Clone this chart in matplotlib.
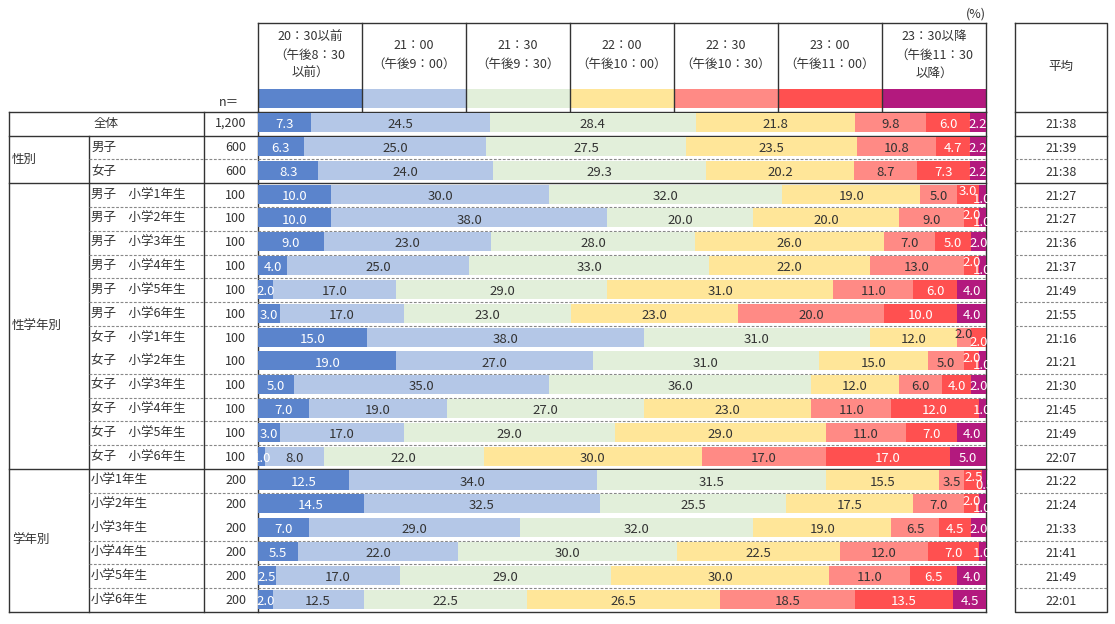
import matplotlib
matplotlib.use('Agg')
import matplotlib.pyplot as plt
from matplotlib.patches import Rectangle

plt.rcParams['font.family'] = ['Noto Sans CJK JP', 'DejaVu Sans']

# --- data -------------------------------------------------------------
categories = ['20：30以前\n（午後8：30\n以前）', '21：00\n（午後9：00）', '21：30\n（午後9：30）',
              '22：00\n（午後10：00）', '22：30\n（午後10：30）', '23：00\n（午後11：00）',
              '23：30以降\n（午後11：30\n以降）']

row_labels = ['全体', '男子', '女子',
              '男子　小学1年生', '男子　小学2年生', '男子　小学3年生',
              '男子　小学4年生', '男子　小学5年生', '男子　小学6年生',
              '女子　小学1年生', '女子　小学2年生', '女子　小学3年生',
              '女子　小学4年生', '女子　小学5年生', '女子　小学6年生',
              '小学1年生', '小学2年生', '小学3年生', '小学4年生', '小学5年生', '小学6年生']
groups = [('性別', 1, 2), ('性学年別', 3, 14), ('学年別', 15, 20)]
n_values = ['1,200', '600', '600'] + ['100'] * 12 + ['200'] * 6
averages = ['21:38', '21:39', '21:38',
            '21:27', '21:27', '21:36', '21:37', '21:49', '21:55',
            '21:16', '21:21', '21:30', '21:45', '21:49', '22:07',
            '21:22', '21:24', '21:33', '21:41', '21:49', '22:01']

t2030 = [7.3, 6.3, 8.3, 10.0, 10.0, 9.0, 4.0, 2.0, 3.0, 15.0, 19.0, 5.0, 7.0, 3.0, 1.0,
         12.5, 14.5, 7.0, 5.5, 2.5, 2.0]
t2100 = [24.5, 25.0, 24.0, 30.0, 38.0, 23.0, 25.0, 17.0, 17.0, 38.0, 27.0, 35.0, 19.0, 17.0, 8.0,
         34.0, 32.5, 29.0, 22.0, 17.0, 12.5]
t2130 = [28.4, 27.5, 29.3, 32.0, 20.0, 28.0, 33.0, 29.0, 23.0, 31.0, 31.0, 36.0, 27.0, 29.0, 22.0,
         31.5, 25.5, 32.0, 30.0, 29.0, 22.5]
t2200 = [21.8, 23.5, 20.2, 19.0, 20.0, 26.0, 22.0, 31.0, 23.0, 12.0, 15.0, 12.0, 23.0, 29.0, 30.0,
         15.5, 17.5, 19.0, 22.5, 30.0, 26.5]
t2230 = [9.8, 10.8, 8.7, 5.0, 9.0, 7.0, 13.0, 11.0, 20.0, 2.0, 5.0, 6.0, 11.0, 11.0, 17.0,
         3.5, 7.0, 6.5, 12.0, 11.0, 18.5]
t2300 = [6.0, 4.7, 7.3, 3.0, 2.0, 5.0, 2.0, 6.0, 10.0, 2.0, 2.0, 4.0, 12.0, 7.0, 17.0,
         2.5, 2.0, 4.5, 7.0, 6.5, 13.5]
t2330 = [2.2, 2.2, 2.2, 1.0, 1.0, 2.0, 1.0, 4.0, 4.0, 0.0, 1.0, 2.0, 1.0, 4.0, 5.0,
         0.5, 1.0, 2.0, 1.0, 4.0, 4.5]

series = [t2030, t2100, t2130, t2200, t2230, t2300, t2330]
colors = ['#5B84CC', '#B4C7E7', '#E2EFDA', '#FFE699', '#FF8A85', '#FF5050', '#B3197E']
text_colors = ['white', '#333333', '#333333', '#333333', '#333333', 'white', 'white']
dark = '#333333'
no_sep = {10, 17}   # row boundaries drawn without a separator in the original

# --- layout (pixels) --------------------------------------------------
W, H = 1115, 624
X_L, X_G, X_N, X_B0, X_B1 = 9, 89, 204, 258, 986
X_A0, X_A1 = 1015, 1107
Y_TOP, Y_T0, Y_T1 = 23, 111.7, 612
nrows = len(row_labels)
rh = (Y_T1 - Y_T0) / nrows

fig = plt.figure(figsize=(W / 100, H / 100), dpi=100)
ax = fig.add_axes([0, 0, 1, 1])
ax.set_xlim(0, W)
ax.set_ylim(H, 0)
ax.axis('off')

lc = '#333333'
lw = 1.0

# header columns and legend strips
colw = (X_B1 - X_B0) / len(categories)
for j, cat in enumerate(categories):
    x0 = X_B0 + j * colw
    ax.add_patch(Rectangle((x0, 89), colw, 19, facecolor=colors[j], edgecolor='none'))
    ax.text(x0 + colw / 2, 55, cat, ha='center', va='center', fontsize=9, color=dark,
            linespacing=1.55)
for j in range(len(categories) + 1):
    ax.plot([X_B0 + j * colw] * 2, [Y_TOP, Y_T0], color=lc, lw=lw)
ax.plot([X_B0, X_B1], [Y_TOP, Y_TOP], color=lc, lw=lw)
ax.text(X_B1, 14, '(%)', ha='right', va='center', fontsize=9, color=dark)
ax.text(239, 102, 'n＝', ha='right', va='center', fontsize=9, color=dark)

# average column frame
ax.plot([X_A0, X_A1, X_A1, X_A0, X_A0], [Y_TOP, Y_TOP, Y_T1, Y_T1, Y_TOP], color=lc, lw=lw)
ax.plot([X_A0, X_A1], [Y_T0, Y_T0], color=lc, lw=lw)
ax.text((X_A0 + X_A1) / 2, 66, '平均', ha='center', va='center', fontsize=9, color=dark)

# left table frame
ax.plot([X_L, X_B0], [Y_T0, Y_T0], color=lc, lw=lw)
ax.plot([X_B0, X_B1], [Y_T0, Y_T0], color=lc, lw=lw)
ax.plot([X_L, X_B1], [Y_T1, Y_T1], color=lc, lw=lw)
ax.plot([X_L, X_L], [Y_T0, Y_T1], color=lc, lw=lw)
ax.plot([X_N, X_N], [Y_T0, Y_T1], color=lc, lw=lw)
ax.plot([X_B0, X_B0], [Y_T0, Y_T1], color=lc, lw=lw)
ax.plot([X_B1, X_B1], [Y_T0, Y_T1], color=lc, lw=lw)
ax.plot([X_G, X_G], [Y_T0 + rh, Y_T1], color=lc, lw=lw)

group_starts = [g[1] for g in groups]
for k in range(1, nrows):
    y = Y_T0 + k * rh
    if k in group_starts:
        ax.plot([X_L, X_B1], [y, y], color=lc, lw=lw)
        ax.plot([X_A0, X_A1], [y, y], color=lc, lw=lw)
    elif k not in no_sep:
        ax.plot([X_G, X_B1], [y, y], color='#888888', lw=0.8, ls=(0, (2.5, 1.5)))
        ax.plot([X_A0, X_A1], [y, y], color='#888888', lw=0.8, ls=(0, (2.5, 1.5)))

# row texts
for i, lab in enumerate(row_labels):
    yc = Y_T0 + (i + 0.5) * rh
    if i == 0:
        ax.text((X_L + X_N) / 2, yc, lab, ha='center', va='center', fontsize=9, color=dark)
    else:
        ax.text(X_G + 2, yc, lab, ha='left', va='center', fontsize=9, color=dark)
    ax.text(246, yc, n_values[i], ha='right', va='center', fontsize=9, color=dark)
    ax.text((X_A0 + X_A1) / 2, yc + 1, averages[i], ha='center', va='center', fontsize=9,
            color=dark)
for name, a, b in groups:
    yc = Y_T0 + (a + b + 1) / 2 * rh
    ax.text(X_L + 3, yc, name, ha='left', va='center', fontsize=9, color=dark)

# --- stacked bars -----------------------------------------------------
bx = fig.add_axes([X_B0 / W, 1 - Y_T1 / H, (X_B1 - X_B0) / W, (Y_T1 - Y_T0) / H])
bx.set_xlim(0, 100)
bx.set_ylim(nrows, 0)
bx.axis('off')

ypos = [i + 0.46 for i in range(nrows)]
left = [0.0] * nrows
for j, s in enumerate(series):
    bx.barh(ypos, s, left=left, height=0.8, color=colors[j], edgecolor='none')
    left = [l + v for l, v in zip(left, s)]

for i in range(nrows):
    vals = [s[i] for s in series]
    nz = [j for j, v in enumerate(vals) if v > 0]
    offs = {j: 0.0 for j in nz}
    if len(nz) > 1 and vals[nz[-2]] < 4:
        offs[nz[-2]] = -0.2
        offs[nz[-1]] = 0.12
    acc = 0.0
    for j, v in enumerate(vals):
        if v > 0:
            bx.text(acc + v / 2, i + 0.55 + offs[j], f'{v:.1f}', ha='center', va='center',
                    fontsize=9.5, color=text_colors[j])
        acc += v

fig.savefig('out.png', dpi=100)
